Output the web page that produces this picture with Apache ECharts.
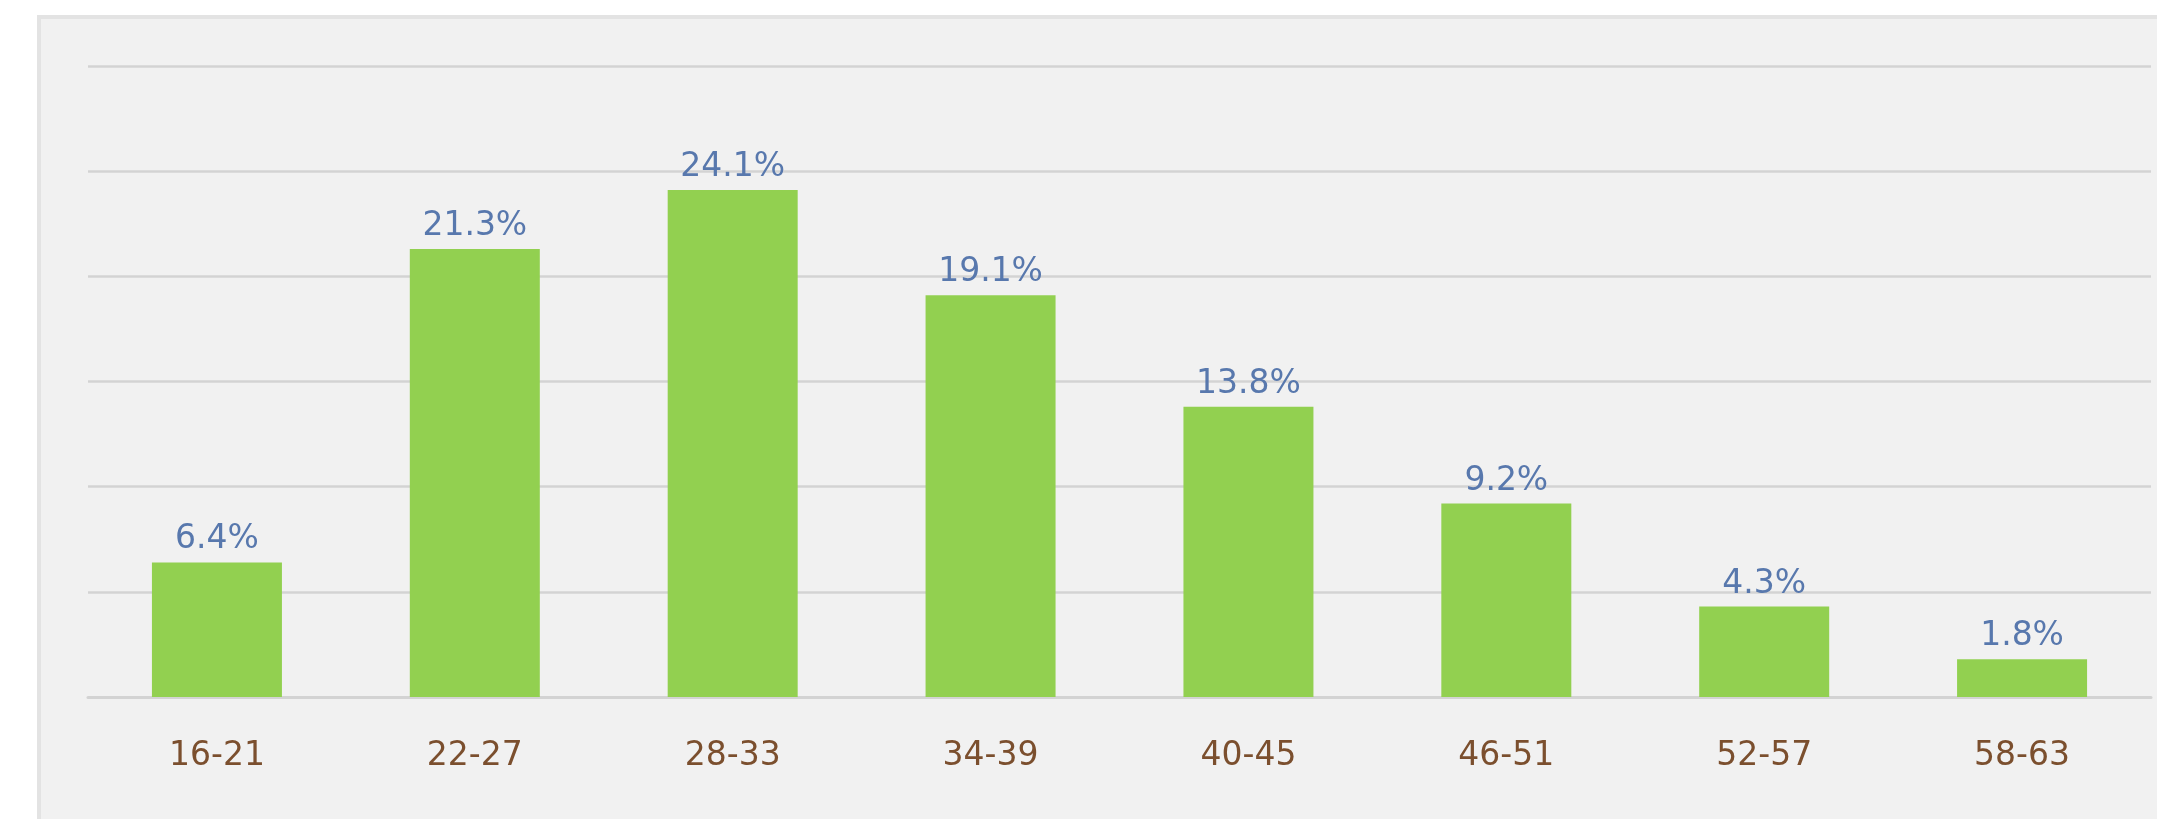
<!DOCTYPE html>
<html>
<head>
<meta charset="utf-8">
<script src="https://cdn.jsdelivr.net/npm/echarts@6/dist/echarts.min.js"></script>
<style>
  html, body { margin: 0; padding: 0; background: #ffffff; }
  #panel { position: absolute; left: 37px; top: 15px; width: 2200px; height: 900px;
           background: #f1f1f1; border-left: 4px solid #e3e3e3; border-top: 4px solid #e3e3e3; box-sizing: border-box; }
  #chart { position: absolute; left: 0; top: 0; width: 2157px; height: 819px; }
</style>
</head>
<body>
<div id="panel"></div>
<div id="chart"></div>
<script>
const categories = ['16-21', '22-27', '28-33', '34-39', '40-45', '46-51', '52-57', '58-63'];
const shares = [6.4, 21.3, 24.1, 19.1, 13.8, 9.2, 4.3, 1.8];

const chart = echarts.init(document.getElementById('chart'), null, { renderer: 'canvas' });
chart.setOption({
  backgroundColor: 'transparent',
  animation: false,
  grid: { left: 88, right: 6, top: 66, bottom: 122, containLabel: false },
  xAxis: {
    type: 'category',
    data: categories,
    axisTick: { show: false },
    axisLine: { show: true, lineStyle: { color: '#d3d3d3', width: 3 } },
    axisLabel: { color: '#7b4f2e', fontFamily: 'DejaVu Sans', fontSize: 33, margin: 43 }
  },
  yAxis: {
    type: 'value',
    min: 0, max: 30, interval: 5,
    axisLabel: { show: false },
    axisLine: { show: false },
    axisTick: { show: false },
    splitLine: { show: true, lineStyle: { color: '#d3d3d3', width: 2.5 } }
  },
  series: [{
    type: 'bar',
    data: shares,
    barWidth: 130,
    itemStyle: { color: '#92d050' },
    label: {
      show: true,
      position: 'top',
      distance: 6,
      color: '#5878ad',
      fontFamily: 'DejaVu Sans',
      fontSize: 33,
      formatter: p => p.value.toFixed(1) + '%'
    }
  }]
});
</script>
</body>
</html>
